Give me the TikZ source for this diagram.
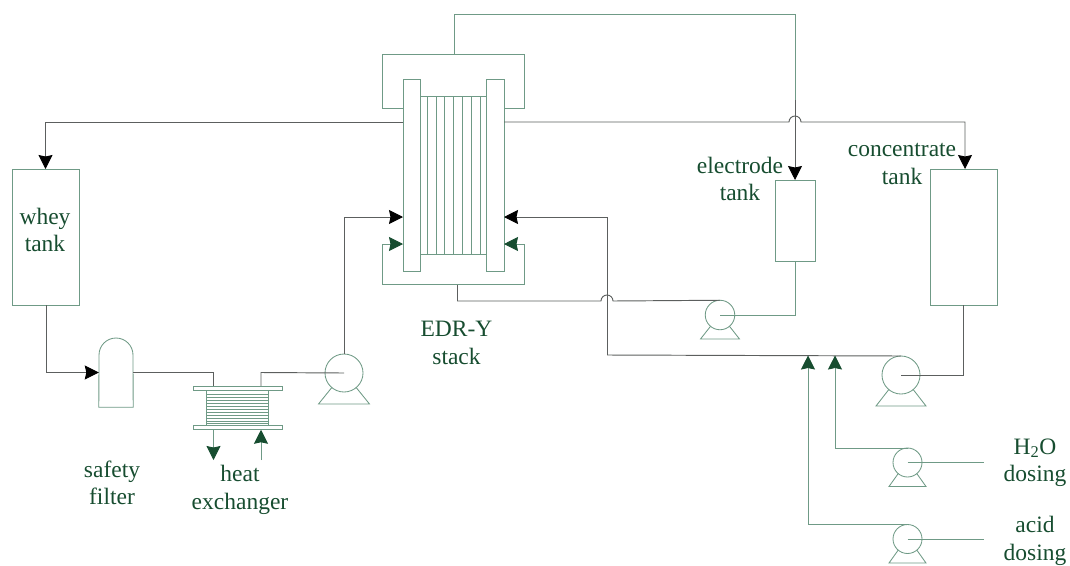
\documentclass[tikz,border=0pt]{standalone}
\usepackage{fontspec}
\setmainfont{Liberation Serif}
\usetikzlibrary{arrows.meta,calc}
\definecolor{outl}{HTML}{6F9A86}
\definecolor{pipe}{HTML}{5C5F5E}
\definecolor{dkgreen}{HTML}{174D30}
\tikzset{
  x=1pt,y=-1pt,
  outline/.style={draw=outl,line width=0.85pt,line join=miter},
  box/.style={outline,rectangle,inner sep=0pt,outer sep=0pt,fill=white},
  pumpc/.style={outline,circle,inner sep=0pt,outer sep=0pt},
  pipeline/.style={draw=pipe,line width=0.95pt},
  greenline/.style={draw=outl,line width=0.95pt},
  blackhead/.style={-{Stealth[length=14pt,width=14pt,inset=1.5pt,color=black]}},
  greenhead/.style={-{Stealth[length=14pt,width=14pt,inset=1.5pt,color=dkgreen]}},
  lab/.style={text=dkgreen,font=\fontsize{23.5}{27.5}\selectfont,align=center,inner sep=0pt}
}
\newcommand{\pumpbase}[3]{\draw[outline] (#1.-130) -- ($(#1.center)+(-#2,#3)$) -- ($(#1.center)+(#2,#3)$) -- (#1.-50);}
\begin{document}
\begin{tikzpicture}
\useasboundingbox (0,0) rectangle (1070,565);
% tanks
\node[box,minimum width=67pt,minimum height=136pt] (whey) at (45.5,237) {};
\node[box,minimum width=67pt,minimum height=136pt] (conc) at (963.5,237) {};
\node[box,minimum width=40pt,minimum height=81pt] (elec) at (795,220.5) {};
% EDR stack frames
\coordinate (ftl) at (382.7,108.5);
\coordinate (ftr) at (524.7,108.5);
\coordinate (fttop) at (454.7,54);
\coordinate (fbl) at (382.7,244);
\coordinate (fbr) at (524.7,244);
\coordinate (fbout) at (457.5,284);
\draw[outline] (403,108.5) -- (ftl) -- (382.7,54) -- (524.7,54) -- (ftr) -- (504,108.5);
% stack
\node[box,minimum width=66pt,minimum height=158pt] (inner) at (453,175) {};
\foreach \xx in {427.3,436,444.7,453.3,462.7,471.3,480.3}
  \draw[outline] (\xx,96) -- (\xx,254);
\node[box,minimum width=17pt,minimum height=192pt,fill=white] (barL) at (411.5,175) {};
\node[box,minimum width=18pt,minimum height=192pt,fill=white] (barR) at (495,175) {};
% pumps
\node[pumpc,minimum size=38pt] (pfeed) at (344,373) {};
\pumpbase{pfeed}{25.5}{31}
\node[pumpc,minimum size=29.5pt] (pelec) at (720,315) {};
\pumpbase{pelec}{19.5}{24}
\node[pumpc,minimum size=38pt] (pconc) at (901,375) {};
\pumpbase{pconc}{25}{31}
\node[pumpc,minimum size=29pt] (pwater) at (907.5,462.5) {};
\pumpbase{pwater}{18.5}{24}
\node[pumpc,minimum size=29pt] (pacid) at (907.5,539) {};
\pumpbase{pacid}{18.5}{24}
% safety filter
\node[inner sep=0pt,minimum width=34pt,minimum height=69pt] (filter) at (116,372.5) {};
\draw[outline] (filter.south west) -- (99,355) arc[start angle=180,end angle=0,radius=17pt] -- (filter.south east) -- cycle;
% heat exchanger
\node[box,minimum width=89pt,minimum height=4.5pt] (hxtop) at (237.5,388.2) {};
\node[box,minimum width=89pt,minimum height=4.5pt] (hxbot) at (237.5,427.5) {};
\node[box,minimum width=62pt,minimum height=35pt] (hxin) at (237,408) {};
\foreach \yy in {394.5,397,400,403,406,409,412,415,418,421,423.5}
  \draw[outline] (206,\yy) -- (268,\yy);
% connectors
\coordinate (lnL) at (403,122);
\coordinate (lnR) at (504,122);
\coordinate (wheyin) at (45.5,169);
\coordinate (concin) at (965,169);
\draw[pipeline,blackhead] (lnL) -- (45.5,122) -- (wheyin);
\draw[pipeline,blackhead] (lnR) -- (789,122) arc[start angle=180,end angle=0,radius=6pt] -- (965,122) -- (concin);
\draw[greenline] (454.7,54) -- (454.7,14) -- (795,14) -- (795,100);
\draw[pipeline,blackhead] (795,100) -- (elec.north);
\draw[greenline] (elec.south) -- (795,315) -- (pelec.center);
\draw[pipeline] (fbout) -- (457.5,301) -- (601,301) arc[start angle=180,end angle=0,radius=6pt] -- (pelec.north);
\draw[outline] (fbl) -- (382.7,284) -- (524.7,284) -- (fbr);
\draw[outline,greenhead] (fbl) -- (barL.west |- fbl);
\draw[outline,greenhead] (fbr) -- (barR.east |- fbr);
\draw[pipeline,blackhead] (607,355) -- (607,217) -- (barR.east |- 607,217);
\draw[pipeline] (607,355) -- (pconc.north);
\draw[pipeline] (pconc.center) -- (963.5,375) -- (conc.south);
\draw[pipeline,blackhead] (whey.south -| 46.5,0) -- (46.5,372.5) -- (filter.west);
\draw[pipeline] (filter.east) -- (213.5,372.5) -- (hxtop.north -| 213.5,0);
\draw[pipeline] (hxtop.north -| 261,0) -- (261,372.5) -- (pfeed.center);
\draw[pipeline,blackhead] (pfeed.north) -- (344,217) -- (barL.west |- 344,217);
\coordinate (hxout) at (213.5,460);
\coordinate (hxinl) at (261,460);
\draw[outline,greenhead] (hxbot.south -| hxout) -- (hxout);
\draw[outline,greenhead] (hxinl) -- (hxbot.south -| hxinl);
\coordinate (jw) at (835,355.5);
\coordinate (ja) at (808,355.5);
\draw[outline,greenhead] (pwater.north) -- (835,448) -- (jw);
\draw[outline,greenhead] (pacid.north) -- (808,524.5) -- (ja);
\coordinate (dw) at (984,462.5);
\coordinate (da) at (984,539);
\draw[outline] (pwater.center) -- (dw);
\draw[outline] (pacid.center) -- (da);
% labels
\node[lab] (l1) at (45,230) {whey\\tank};
\node[lab] (l2) at (902,164) {concentrate\\tank};
\node[lab] (l3) at (740,179) {electrode\\tank};
\node[lab] (l4) at (456.5,343) {EDR-Y\\stack};
\node[lab] (l5) at (112,483) {safety\\filter};
\node[lab] (l6) at (240,490) {heat\\exchanger};
\node[lab] (l7) at (1035,462.5) {H\textsubscript{2}O\\dosing};
\node[lab] (l8) at (1035,541) {acid\\dosing};
\end{tikzpicture}
\end{document}
